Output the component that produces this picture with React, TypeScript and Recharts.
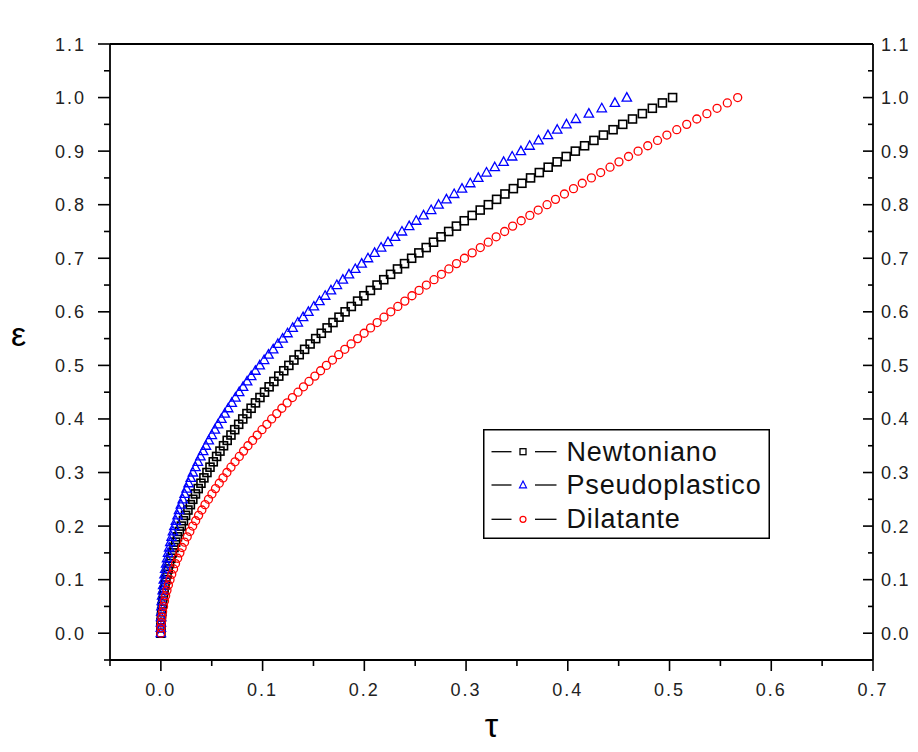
import React from 'react'
import { ScatterChart, Scatter, XAxis, YAxis, Legend } from 'recharts'

// ε (shared by all three series)
const epsilon: number[] = [
  0, 0.01, 0.02, 0.03, 0.04, 0.05, 0.06, 0.07, 0.08, 0.09,
  0.1, 0.11, 0.12, 0.13, 0.14, 0.15, 0.16, 0.17, 0.18, 0.19,
  0.2, 0.21, 0.22, 0.23, 0.24, 0.25, 0.26, 0.27, 0.28, 0.29,
  0.3, 0.31, 0.32, 0.33, 0.34, 0.35, 0.36, 0.37, 0.38, 0.39,
  0.4, 0.41, 0.42, 0.43, 0.44, 0.45, 0.46, 0.47, 0.48, 0.49,
  0.5, 0.51, 0.52, 0.53, 0.54, 0.55, 0.56, 0.57, 0.58, 0.59,
  0.6, 0.61, 0.62, 0.63, 0.64, 0.65, 0.66, 0.67, 0.68, 0.69,
  0.7, 0.71, 0.72, 0.73, 0.74, 0.75, 0.76, 0.77, 0.78, 0.79,
  0.8, 0.81, 0.82, 0.83, 0.84, 0.85, 0.86, 0.87, 0.88, 0.89,
  0.9, 0.91, 0.92, 0.93, 0.94, 0.95, 0.96, 0.97, 0.98, 0.99,
  1.0
]

// τ, one per ε
const tauNewtoniano: number[] = [
  0, 0.0001, 0.0002, 0.0005, 0.0008, 0.0013, 0.0018, 0.0025, 0.0032, 0.0041,
  0.005, 0.0061, 0.0072, 0.0085, 0.0099, 0.0113, 0.0129, 0.0145, 0.0163, 0.0182,
  0.0201, 0.0222, 0.0243, 0.0266, 0.029, 0.0314, 0.034, 0.0367, 0.0394, 0.0423,
  0.0453, 0.0483, 0.0515, 0.0548, 0.0581, 0.0616, 0.0652, 0.0689, 0.0726, 0.0765,
  0.0805, 0.0846, 0.0887, 0.093, 0.0974, 0.1019, 0.1064, 0.1111, 0.1159, 0.1208,
  0.1258, 0.1308, 0.136, 0.1413, 0.1467, 0.1522, 0.1577, 0.1634, 0.1692, 0.1751,
  0.1811, 0.1872, 0.1934, 0.1996, 0.206, 0.2125, 0.2191, 0.2258, 0.2326, 0.2395,
  0.2465, 0.2536, 0.2608, 0.268, 0.2754, 0.2829, 0.2905, 0.2982, 0.306, 0.3139,
  0.3219, 0.33, 0.3382, 0.3465, 0.3549, 0.3634, 0.372, 0.3807, 0.3895, 0.3984,
  0.4074, 0.4165, 0.4257, 0.435, 0.4445, 0.454, 0.4636, 0.4733, 0.4831, 0.493,
  0.503
]

const tauPseudoplastico: number[] = [
  0, 0.0, 0.0001, 0.0002, 0.0004, 0.0006, 0.0009, 0.0013, 0.0018, 0.0023,
  0.0029, 0.0036, 0.0043, 0.0052, 0.0061, 0.0071, 0.0082, 0.0093, 0.0106, 0.0119,
  0.0133, 0.0148, 0.0164, 0.0179, 0.0197, 0.0215, 0.0234, 0.0253, 0.0273, 0.0294,
  0.0315, 0.034, 0.0364, 0.0389, 0.0416, 0.0443, 0.0471, 0.0501, 0.0531, 0.0562,
  0.0595, 0.0628, 0.0662, 0.0697, 0.0733, 0.077, 0.0808, 0.0848, 0.0888, 0.0929,
  0.0972, 0.1015, 0.1058, 0.1104, 0.115, 0.1197, 0.1245, 0.1296, 0.1346, 0.1398,
  0.145, 0.1504, 0.1559, 0.1615, 0.1672, 0.173, 0.1789, 0.1849, 0.1911, 0.1974,
  0.2036, 0.2101, 0.2165, 0.2233, 0.2302, 0.237, 0.2441, 0.251, 0.2582, 0.2657,
  0.273, 0.2807, 0.2883, 0.296, 0.3041, 0.312, 0.3201, 0.3282, 0.3369, 0.3453,
  0.3539, 0.3625, 0.3712, 0.3805, 0.3896, 0.3987, 0.4079, 0.4207, 0.4334, 0.4463,
  0.458
]

const tauDilatante: number[] = [
  0, 0.0001, 0.0005, 0.001, 0.0017, 0.0026, 0.0036, 0.0047, 0.006, 0.0074,
  0.009, 0.0107, 0.0125, 0.0144, 0.0165, 0.0187, 0.0209, 0.0233, 0.0259, 0.0285,
  0.0313, 0.0342, 0.0371, 0.0403, 0.0434, 0.0468, 0.0502, 0.0537, 0.0574, 0.0611,
  0.0649, 0.0689, 0.0729, 0.0771, 0.0813, 0.0856, 0.0902, 0.0947, 0.0994, 0.1042,
  0.1089, 0.1139, 0.1189, 0.1241, 0.1293, 0.1348, 0.1402, 0.1456, 0.1514, 0.157,
  0.1627, 0.1687, 0.1748, 0.1808, 0.187, 0.1934, 0.1998, 0.2061, 0.2126, 0.2193,
  0.226, 0.2329, 0.2398, 0.2468, 0.2538, 0.261, 0.2685, 0.2758, 0.2831, 0.2906,
  0.2984, 0.306, 0.314, 0.3218, 0.3296, 0.3379, 0.3458, 0.3542, 0.3627, 0.3709,
  0.3796, 0.3879, 0.3967, 0.4056, 0.4142, 0.4232, 0.4323, 0.4415, 0.4503, 0.4597,
  0.4691, 0.4786, 0.4882, 0.4974, 0.5071, 0.5169, 0.5268, 0.5367, 0.5467, 0.5568,
  0.567
]

const xTicks = [-0.05, 0, 0.05, 0.1, 0.15, 0.2, 0.25, 0.3, 0.35, 0.4, 0.45, 0.5, 0.55, 0.6, 0.65, 0.7]
const yTicks = [
  -0.05, 0, 0.05, 0.1, 0.15, 0.2, 0.25, 0.3, 0.35, 0.4, 0.45, 0.5,
  0.55, 0.6, 0.65, 0.7, 0.75, 0.8, 0.85, 0.9, 0.95, 1.0, 1.05, 1.1
]
const seriesNames = ['Newtoniano', 'Pseudoplastico', 'Dilatante']

const toPoints = (taus: number[]) => taus.map((t, i) => ({ tau: t, eps: epsilon[i] }))

const font = 'Arial, "Liberation Sans", sans-serif'
const tickText = { fontSize: 18, letterSpacing: 2, fill: '#222', fontFamily: font }
const isMajor = (v: number) => Math.round(v * 20) % 2 === 0

const BottomTick = (props: any) => {
  const { x, y, payload } = props
  const major = isMajor(payload.value)
  return (
    <g>
      <line x1={x} y1={y} x2={x} y2={y + (major ? 11 : 6)} stroke="#000" strokeWidth={1.6} />
      {major && (
        <text x={x} y={y + 36} textAnchor="middle" style={tickText}>
          {payload.value.toFixed(1)}
        </text>
      )}
    </g>
  )
}

const TopTick = (props: any) => {
  const { x, y, payload } = props
  const major = isMajor(payload.value)
  return (
    <g>
      <line x1={x} y1={y} x2={x} y2={y + (major ? 10 : 5)} stroke="#000" strokeWidth={1.6} />
      {major && (
        <text x={x} y={y - 19} textAnchor="middle" style={tickText}>
          {payload.value.toFixed(1)}
        </text>
      )}
    </g>
  )
}

const LeftTick = (props: any) => {
  const { x, y, payload } = props
  const major = isMajor(payload.value)
  return (
    <g>
      <line x1={x} y1={y} x2={x - (major ? 12 : 6)} y2={y} stroke="#000" strokeWidth={1.6} />
      {major && (
        <text x={x - 24} y={y + 6.5} textAnchor="end" style={tickText}>
          {payload.value.toFixed(1)}
        </text>
      )}
    </g>
  )
}

const RightTick = (props: any) => {
  const { x, y, payload } = props
  const major = isMajor(payload.value)
  return (
    <g>
      <line x1={x} y1={y} x2={x - (major ? 10 : 5)} y2={y} stroke="#000" strokeWidth={1.6} />
      {major && (
        <text x={x + 8} y={y + 6.5} textAnchor="start" style={{ ...tickText, letterSpacing: 1.2 }}>
          {payload.value.toFixed(1)}
        </text>
      )}
    </g>
  )
}

const SquareMark = (props: any) => (
  <rect x={props.cx - 4} y={props.cy - 4} width={8} height={8} fill="none" stroke="#000" strokeWidth={1.6} />
)

const TriangleMark = (props: any) => {
  const { cx, cy } = props
  return (
    <polygon
      points={`${cx},${cy - 5} ${cx + 4.7},${cy + 3.5} ${cx - 4.7},${cy + 3.5}`}
      fill="none"
      stroke="#0000ff"
      strokeWidth={1.3}
    />
  )
}

const CircleMark = (props: any) => (
  <circle cx={props.cx} cy={props.cy} r={4} fill="none" stroke="#ff0000" strokeWidth={1.3} />
)

const LegendBox = () => {
  const rows = [22.7, 56, 90.3]
  return (
    <svg width={287} height={110} style={{ display: 'block' }}>
      <rect x={0.75} y={0.75} width={285.5} height={108.5} fill="#fff" stroke="#000" strokeWidth={1.5} />
      {seriesNames.map((name, i) => {
        const ry = rows[i]
        return (
          <g key={name}>
            <line x1={8.5} y1={ry} x2={28.5} y2={ry} stroke="#000" strokeWidth={1.3} />
            <line x1={52} y1={ry} x2={73.5} y2={ry} stroke="#000" strokeWidth={1.3} />
            {i === 0 && <rect x={37} y={ry - 3} width={6} height={6} fill="none" stroke="#000" strokeWidth={1.3} />}
            {i === 1 && (
              <polygon
                points={`40,${ry - 4} 43.5,${ry + 2.8} 36.5,${ry + 2.8}`}
                fill="none"
                stroke="#0000ff"
                strokeWidth={1.2}
              />
            )}
            {i === 2 && <circle cx={40} cy={ry} r={3} fill="none" stroke="#ff0000" strokeWidth={1.2} />}
            <text x={83.5} y={ry + 9} style={{ fontSize: 27, letterSpacing: 0.85, fill: '#111', fontFamily: font }}>
              {name}
            </text>
          </g>
        )
      })}
    </svg>
  )
}

const axisLine = { stroke: '#000', strokeWidth: 1.8 }

const App = () => {
  return (
    <div style={{ width: 902, height: 736, position: 'relative', fontFamily: font }}>
      <ScatterChart width={902} height={736} margin={{ top: 0, right: 0, bottom: 0, left: 0 }}>
        <XAxis
          xAxisId="b"
          type="number"
          dataKey="tau"
          domain={[-0.05, 0.7]}
          allowDataOverflow
          ticks={xTicks}
          interval={0}
          height={84}
          tickSize={0}
          tickMargin={0}
          tickLine={false}
          tick={<BottomTick />}
          axisLine={axisLine}
          label={{ value: 'τ', position: 'insideBottom', offset: 7, style: { fontSize: 34, fill: '#000', fontFamily: font } }}
        />
        <XAxis
          xAxisId="t"
          orientation="top"
          type="number"
          domain={[-0.05, 0.7]}
          allowDataOverflow
          ticks={xTicks}
          interval={0}
          height={36}
          tickSize={0}
          tickMargin={0}
          tickLine={false}
          tick={<TopTick />}
          axisLine={axisLine}
        />
        <YAxis
          yAxisId="l"
          type="number"
          dataKey="eps"
          domain={[-0.05, 1.1]}
          allowDataOverflow
          ticks={yTicks}
          interval={0}
          width={102}
          tickSize={0}
          tickMargin={0}
          tickLine={false}
          tick={<LeftTick />}
          axisLine={axisLine}
          label={{ value: 'ε', position: 'insideLeft', offset: 3, dy: -18, style: { fontSize: 34, fill: '#000', fontFamily: font } }}
        />
        <YAxis
          yAxisId="r"
          orientation="right"
          type="number"
          domain={[-0.05, 1.1]}
          allowDataOverflow
          ticks={yTicks}
          interval={0}
          width={37}
          tickSize={0}
          tickMargin={0}
          tickLine={false}
          tick={<RightTick />}
          axisLine={axisLine}
        />
        <Legend
          layout="vertical"
          align="center"
          verticalAlign="middle"
          wrapperStyle={{ position: 'absolute', left: 475, top: 421, width: 287, height: 110 }}
          content={() => <LegendBox />}
        />
        <Scatter
          name={seriesNames[0]}
          data={toPoints(tauNewtoniano)}
          xAxisId="b"
          yAxisId="l"
          shape={SquareMark}
          isAnimationActive={false}
        />
        <Scatter
          name={seriesNames[1]}
          data={toPoints(tauPseudoplastico)}
          xAxisId="b"
          yAxisId="l"
          shape={TriangleMark}
          isAnimationActive={false}
        />
        <Scatter
          name={seriesNames[2]}
          data={toPoints(tauDilatante)}
          xAxisId="b"
          yAxisId="l"
          shape={CircleMark}
          isAnimationActive={false}
        />
      </ScatterChart>
    </div>
  )
}

export default App
